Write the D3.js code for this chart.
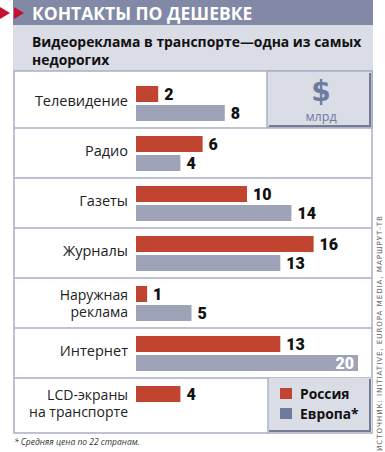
<!DOCTYPE html>
<html>
<head>
<meta charset="utf-8">
<script src="https://cdn.jsdelivr.net/npm/d3@7"></script>
<style>
  html, body { margin: 0; padding: 0; background: #fff; }
  svg { display: block; }
</style>
</head>
<body>
<div id="chart"></div>
<script>
// ---- Data ----
const categories = ['Телевидение', 'Радио', 'Газеты', 'Журналы', 'Наружная\nреклама', 'Интернет', 'LCD-экраны\nна транспорте'];
const russia = [2, 6, 10, 16, 1, 13, 4];
const europe = [8, 4, 14, 13, 5, 20, null];
const seriesNames = ['Россия', 'Европа*'];

const title = 'КОНТАКТЫ ПО ДЕШЕВКЕ';
const subtitle = ['Видеореклама в транспорте\u2014одна из самых', 'недорогих'];
const footnote = '* Средняя цена по 22 странам.';
const source = 'ИСТОЧНИК: INITIATIVE, EUROPA MEDIA, МАРШРУТ-ТВ';

// ---- Colors ----
const C = {
  red: '#c0442f',
  bar: '#9ea3b8',
  header: '#8189a6',
  band: '#dadce6',
  line: '#a9aec5',
  dark: '#6f7a9f',
  shadow: '#757b93',
  text: '#222'
};

const W = 385, H = 452;
const boxL = 14, boxR = 372, boxT = 71, boxB = 433;

const svg = d3.select('#chart').append('svg')
  .attr('width', W).attr('height', H)
  .attr('viewBox', `0 0 ${W} ${H}`);

// ---- Header ----
svg.append('rect').attr('x', 13).attr('y', 0).attr('width', 360).attr('height', 25).attr('fill', C.header);
svg.append('rect').attr('x', 13).attr('y', 25).attr('width', 360).attr('height', 46).attr('fill', C.band);
svg.append('path').attr('d', 'M0,7 L10,13 L0,19 Z').attr('fill', '#c8102e');
svg.append('path').attr('d', 'M14,7 L24,13 L14,19 Z').attr('fill', '#c8102e');
svg.append('text')
  .attr('x', 32).attr('y', 20)
  .style('font-family', 'Open Sans, sans-serif')
  .style('font-weight', 700).style('font-size', '17.5px')
  .attr('fill', '#fff')
  .text(title);
svg.append('g').selectAll('text')
  .data(subtitle).enter().append('text')
  .attr('x', 32).attr('y', (d, i) => 47 + i * 18)
  .style('font-family', 'Open Sans, sans-serif')
  .style('font-weight', 700).style('font-size', '13.9px')
  .attr('fill', '#111')
  .text(d => d);

// ---- Scales ----
const y = d3.scaleBand().domain(categories).range([78, 428]);
const x = d3.scaleLinear().domain([0, 20]).range([136, 358]);

// ---- Box & separators ----
svg.append('rect')
  .attr('x', boxL).attr('y', boxT).attr('width', boxR - boxL).attr('height', boxB - boxT)
  .attr('fill', '#fff').attr('stroke', C.line).attr('stroke-width', 1.5);

svg.append('g').selectAll('line')
  .data(categories.slice(1)).enter().append('line')
  .attr('x1', boxL).attr('x2', boxR)
  .attr('y1', d => y(d)).attr('y2', d => y(d))
  .attr('stroke', C.line).attr('stroke-width', 1.5);

// ---- $ box ----
const unit = svg.append('g');
unit.append('rect').attr('x', 267).attr('y', 71).attr('width', 105).attr('height', 56)
  .attr('fill', C.band).attr('stroke', C.line).attr('stroke-width', 1.5);
unit.append('path').attr('d', 'M269,126 L370,126 L370,73')
  .attr('fill', 'none').attr('stroke', C.shadow).attr('stroke-width', 2);
unit.append('text').attr('x', 321).attr('y', 101).attr('text-anchor', 'middle')
  .style('font-family', 'DejaVu Sans, sans-serif').style('font-weight', 700).style('font-size', '28px')
  .attr('fill', C.dark).text('$');
unit.append('text').attr('x', 321).attr('y', 121).attr('text-anchor', 'middle')
  .style('font-family', 'Open Sans, sans-serif').style('font-size', '12.5px')
  .attr('fill', C.dark).text('млрд');

// ---- Category labels ----
const labels = svg.append('g');
categories.forEach((c, i) => {
  const lines = c.split('\n');
  const top = y(c);
  const t = labels.append('text')
    .attr('text-anchor', 'end')
    .style('font-family', 'Open Sans, sans-serif')
    .style('font-size', lines.length === 1 ? '14.5px' : '14px')
    .attr('fill', C.text);
  lines.forEach((l, j) => {
    const yy = lines.length === 1 ? top + 28 : top + 21.5 + j * 17.5;
    t.append('tspan').attr('x', 128).attr('y', yy).text(l);
  });
});

// ---- Bars ----
const valueFont = g => g.style('font-family', 'Roboto, DejaVu Sans, sans-serif')
  .style('font-weight', 900).style('font-size', '16px');

const barH = 16;
const rows = categories.map((c, i) => ({ c, r: russia[i], e: europe[i] }));

const bars = svg.append('g');
bars.selectAll('rect.ru').data(rows).enter().append('rect')
  .attr('x', x(0)).attr('y', d => y(d.c) + 8)
  .attr('width', d => x(d.r) - x(0)).attr('height', barH)
  .attr('fill', C.red);
bars.selectAll('rect.eu').data(rows.filter(d => d.e != null)).enter().append('rect')
  .attr('x', x(0)).attr('y', d => y(d.c) + 27)
  .attr('width', d => x(d.e) - x(0)).attr('height', barH)
  .attr('fill', C.bar);

bars.selectAll('text.ru').data(rows).enter().append('text')
  .call(valueFont)
  .attr('x', d => x(d.r) + 6).attr('y', d => y(d.c) + 8 + barH / 2 + 6)
  .attr('fill', '#111')
  .text(d => d.r);

const maxE = d3.max(europe);
bars.selectAll('text.eu').data(rows.filter(d => d.e != null)).enter().append('text')
  .call(valueFont)
  .attr('x', d => d.e === maxE ? x(d.e) - 4 : x(d.e) + 6)
  .attr('text-anchor', d => d.e === maxE ? 'end' : 'start')
  .attr('y', d => y(d.c) + 27 + barH / 2 + 6)
  .attr('fill', d => d.e === maxE ? '#fff' : '#111')
  .text(d => d.e);

// ---- Legend ----
const lg = svg.append('g');
lg.append('line').attr('x1', 268).attr('x2', 268).attr('y1', 377).attr('y2', 433)
  .attr('stroke', C.line).attr('stroke-width', 1.5);
lg.append('rect').attr('x', 269).attr('y', 378).attr('width', 103).attr('height', 54)
  .attr('fill', C.band);
lg.append('path').attr('d', 'M269,431 L370,431 L370,379')
  .attr('fill', 'none').attr('stroke', C.shadow).attr('stroke-width', 2);
const legendColors = [C.red, C.dark];
seriesNames.forEach((s, i) => {
  lg.append('rect').attr('x', 280).attr('y', 388 + i * 20).attr('width', 12).attr('height', 11)
    .attr('fill', legendColors[i]);
  lg.append('text').attr('x', 300).attr('y', 398.5 + i * 20)
    .style('font-family', 'Open Sans, sans-serif').style('font-weight', 700).style('font-size', '13.8px')
    .attr('fill', '#111').text(s);
});

// ---- Footnote & source ----
svg.append('text').attr('x', 14).attr('y', 445)
  .style('font-family', 'Open Sans, sans-serif').style('font-style', 'italic').style('font-size', '8.5px')
  .attr('fill', '#333').text(footnote);

svg.append('text')
  .attr('transform', 'translate(382,451) rotate(-90)')
  .style('font-family', 'DejaVu Sans, sans-serif').style('font-size', '7.2px')
  .style('letter-spacing', '0.9px')
  .attr('fill', '#666').text(source);
</script>
</body>
</html>
